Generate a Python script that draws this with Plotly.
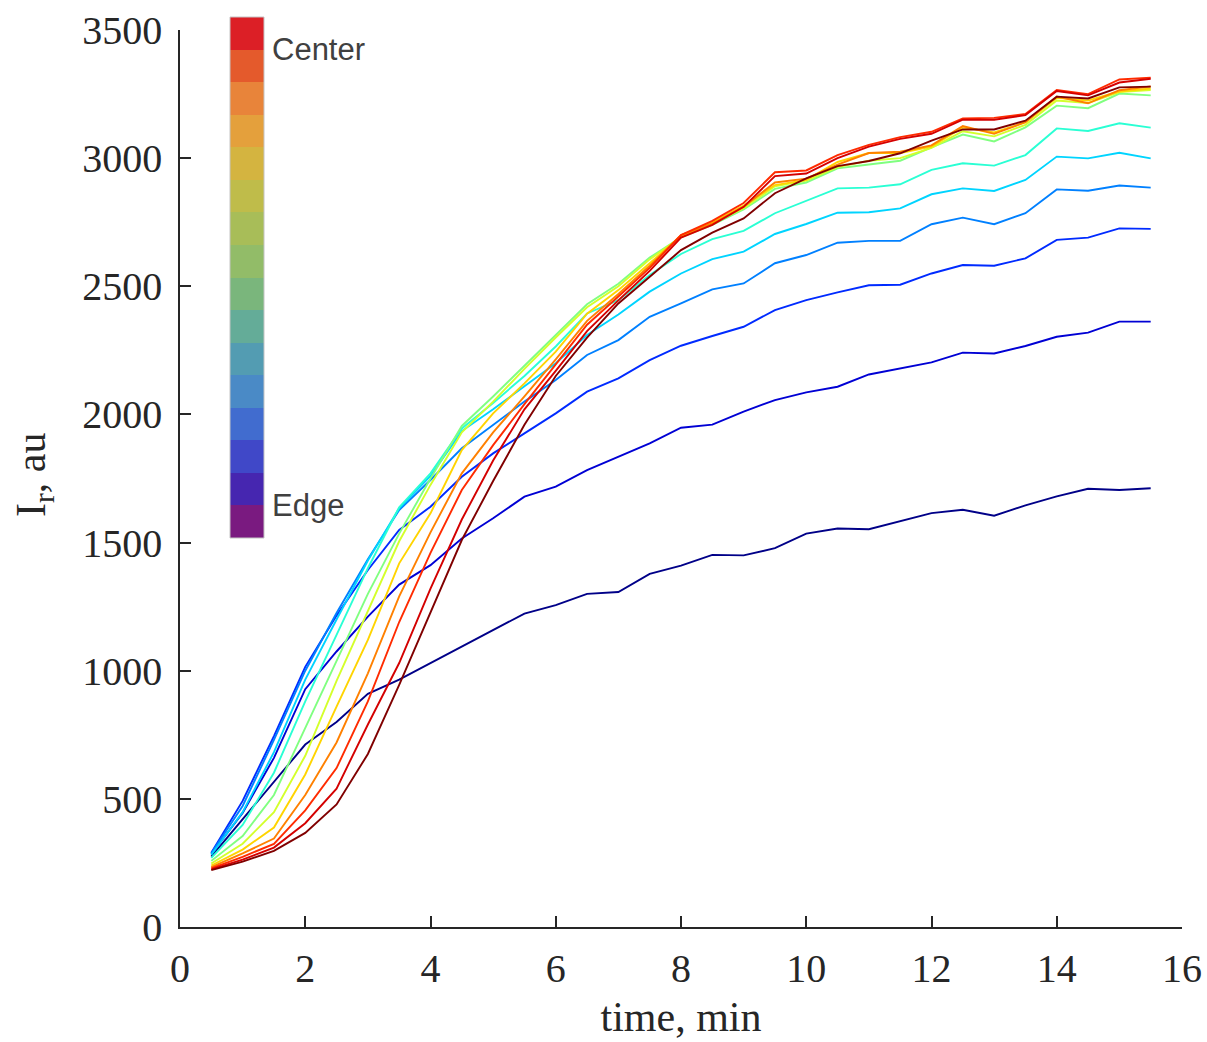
import plotly.graph_objects as go

# ---------------- data ----------------
time_min = [0.5, 1.0, 1.5, 2.0, 2.5, 3.0, 3.5, 4.0, 4.5, 5.0, 5.5, 6.0, 6.5, 7.0, 7.5, 8.0,
            8.5, 9.0, 9.5, 10.0, 10.5, 11.0, 11.5, 12.0, 12.5, 13.0, 13.5, 14.0, 14.5, 15.0, 15.5]

ring_01 = [275, 420, 567, 712, 800, 910, 965, 1030, 1096, 1160, 1223, 1256, 1300, 1307, 1378, 1410,
           1452, 1450, 1478, 1535, 1555, 1552, 1585, 1615, 1628, 1605, 1645, 1680, 1710, 1705, 1712]
ring_02 = [285, 445, 660, 928, 1075, 1211, 1336, 1412, 1516, 1595, 1679, 1718, 1783, 1835, 1887, 1948,
           1960, 2011, 2056, 2086, 2108, 2156, 2180, 2203, 2241, 2238, 2267, 2303, 2319, 2362, 2362]
ring_03 = [290, 492, 745, 1015, 1215, 1393, 1549, 1640, 1757, 1848, 1926, 2004, 2089, 2141, 2212, 2268,
           2306, 2342, 2407, 2446, 2476, 2504, 2506, 2550, 2583, 2580, 2609, 2681, 2690, 2726, 2724]
ring_04 = [288, 472, 730, 1000, 1225, 1435, 1627, 1744, 1868, 1959, 2050, 2134, 2232, 2290, 2381, 2433,
           2488, 2511, 2590, 2622, 2670, 2677, 2677, 2742, 2768, 2742, 2785, 2878, 2873, 2893, 2885]
ring_05 = [282, 448, 682, 965, 1200, 1430, 1634, 1760, 1935, 2020, 2110, 2200, 2310, 2390, 2479, 2550,
           2606, 2635, 2704, 2743, 2787, 2789, 2804, 2859, 2882, 2872, 2915, 3006, 2999, 3021, 2999]
ring_06 = [270, 398, 602, 880, 1140, 1400, 1638, 1770, 1945, 2045, 2150, 2265, 2394, 2446, 2544, 2626,
           2684, 2716, 2785, 2834, 2882, 2885, 2898, 2954, 2980, 2971, 3012, 3116, 3106, 3136, 3119]
ring_07 = [258, 355, 515, 778, 1040, 1300, 1535, 1750, 1955, 2070, 2190, 2310, 2430, 2510, 2612, 2691,
           2740, 2800, 2880, 2905, 2960, 2975, 2990, 3042, 3092, 3065, 3120, 3205, 3195, 3252, 3245]
ring_08 = [248, 325, 448, 668, 960, 1230, 1505, 1725, 1930, 2050, 2178, 2300, 2418, 2500, 2605, 2692,
           2745, 2805, 2890, 2912, 2965, 2990, 3000, 3040, 3105, 3085, 3130, 3225, 3215, 3258, 3266]
ring_09 = [240, 302, 388, 595, 860, 1120, 1419, 1614, 1861, 2004, 2121, 2245, 2393, 2485, 2590, 2696,
           2750, 2815, 2895, 2915, 2985, 3020, 3020, 3045, 3120, 3100, 3140, 3235, 3225, 3260, 3272]
ring_10 = [234, 287, 345, 515, 720, 990, 1290, 1540, 1770, 1930, 2070, 2215, 2365, 2470, 2580, 2700,
           2745, 2810, 2905, 2920, 2975, 3020, 3025, 3050, 3125, 3095, 3140, 3240, 3214, 3265, 3280]
ring_11 = [229, 274, 324, 455, 620, 880, 1190, 1460, 1705, 1880, 2040, 2195, 2350, 2460, 2572, 2700,
           2755, 2825, 2945, 2952, 3012, 3052, 3082, 3103, 3155, 3157, 3172, 3266, 3250, 3307, 3314]
ring_12 = [225, 263, 310, 405, 540, 790, 1030, 1320, 1590, 1820, 2020, 2170, 2325, 2445, 2560, 2690,
           2740, 2810, 2930, 2940, 3000, 3045, 3075, 3095, 3150, 3150, 3168, 3262, 3245, 3295, 3310]
ring_13 = [222, 255, 297, 367, 478, 675, 945, 1230, 1510, 1740, 1960, 2150, 2300, 2433, 2538, 2641,
           2709, 2765, 2863, 2921, 2969, 2989, 3019, 3068, 3112, 3112, 3146, 3240, 3233, 3276, 3279]

rings = [ring_01, ring_02, ring_03, ring_04, ring_05, ring_06, ring_07,
         ring_08, ring_09, ring_10, ring_11, ring_12, ring_13]

x_ticks = [0, 2, 4, 6, 8, 10, 12, 14, 16]
y_ticks = [0, 500, 1000, 1500, 2000, 2500, 3000, 3500]

# colour key: 16 levels from edge (0) to center (15)
key_levels = [0, 1, 2, 3, 4, 5, 6, 7, 8, 9, 10, 11, 12, 13, 14, 15]
key_tick_pos = [0.5, 14.5]
key_labels = ["Edge", "Center"]

# ---------------- styles ----------------
line_colors = ["#000088", "#0000d4", "#002bff", "#0080ff", "#00d4ff", "#2affd4", "#80ff80",
               "#d4ff2b", "#ffd400", "#ff8000", "#ff2b00", "#d40000", "#800000"]

key_colors = ["#7a1a80", "#4626b0", "#4048c8", "#416ccf", "#4a8ac6", "#539cb2", "#64ac98", "#7ab67c",
              "#92bc68", "#a8bd58", "#bfbc4a", "#d4b440", "#e4a03c", "#e8843a", "#e45a2c", "#dc1f26"]

n_key = len(key_colors)
key_scale = []
for i, c in enumerate(key_colors):
    key_scale.append([i / n_key, c])
    key_scale.append([(i + 1) / n_key, c])

W, H = 1207, 1042
ML, MR, MT, MB = 180, 25, 10, 115
plot_w = W - ML - MR           # 1002
plot_h = H - MT - MB           # 917
y_axis_top = 30                # pixel row of 3500
y_axis_bot = 927               # pixel row of 0


def py_to_paper(py):
    return (y_axis_bot - py) / plot_h


def px_to_paper(px):
    return (px - ML) / plot_w


fig = go.Figure()

for vals, col in zip(rings, line_colors):
    fig.add_trace(go.Scatter(
        x=time_min, y=vals, mode="lines",
        line=dict(color=col, width=1.9),
        showlegend=False, hoverinfo="skip", xaxis="x", yaxis="y"))

# discrete colour key drawn as a one-column heatmap on its own small axes
fig.add_trace(go.Heatmap(
    z=[[v] for v in key_levels], x=[0], y=key_levels,
    zmin=-0.5, zmax=n_key - 0.5, colorscale=key_scale, showscale=False,
    hoverinfo="skip", xaxis="x2", yaxis="y2"))

axis_font = dict(family="Liberation Serif, Times New Roman, serif", size=40, color="#262626")
title_font = dict(family="Liberation Serif, Times New Roman, serif", size=42, color="#262626")

fig.update_layout(
    width=W, height=H,
    margin=dict(l=ML, r=MR, t=MT, b=MB, autoexpand=False),
    paper_bgcolor="white", plot_bgcolor="white",
    font=axis_font,
    xaxis=dict(
        domain=[0, 1], anchor="y",
        range=[0, 16], tickmode="array", tickvals=x_ticks,
        ticks="inside", ticklen=11, tickwidth=1.5, tickcolor="#262626",
        showline=True, linecolor="#262626", linewidth=1.5,
        showgrid=False, zeroline=False, mirror=False,
        tickfont=axis_font, ticklabelstandoff=5,
        title=dict(text="time, min", font=title_font, standoff=12),
    ),
    yaxis=dict(
        domain=[0, py_to_paper(y_axis_top)], anchor="x",
        range=[0, 3500], tickmode="array", tickvals=y_ticks,
        ticks="inside", ticklen=11, tickwidth=1.5, tickcolor="#262626",
        showline=True, linecolor="#262626", linewidth=1.5,
        showgrid=False, zeroline=False, mirror=False,
        tickfont=axis_font, ticklabelstandoff=8,
    ),
    xaxis2=dict(
        domain=[px_to_paper(230), px_to_paper(264)], anchor="y2",
        range=[-0.5, 0.5], visible=False, fixedrange=True,
    ),
    yaxis2=dict(
        domain=[py_to_paper(538), py_to_paper(17)], anchor="x2", side="right",
        range=[-0.5, n_key - 0.5], tickmode="array", tickvals=key_tick_pos, ticktext=key_labels,
        ticks="", showline=False, showgrid=False, zeroline=False, fixedrange=True,
        tickfont=dict(family="Liberation Sans, Arial, sans-serif", size=31, color="#404040"),
        ticklabelstandoff=7,
    ),
    shapes=[dict(type="rect", xref="x2 domain", yref="y2 domain", x0=0, x1=1, y0=0, y1=1,
                 line=dict(color="#c4c4c4", width=1), fillcolor="rgba(0,0,0,0)", layer="above")],
    annotations=[dict(
        text="I<sub>r</sub>, au", textangle=-90, showarrow=False,
        xref="paper", yref="paper", x=px_to_paper(34), y=py_to_paper(475),
        xanchor="center", yanchor="middle", font=title_font)],
)

fig.write_html("out.html")
